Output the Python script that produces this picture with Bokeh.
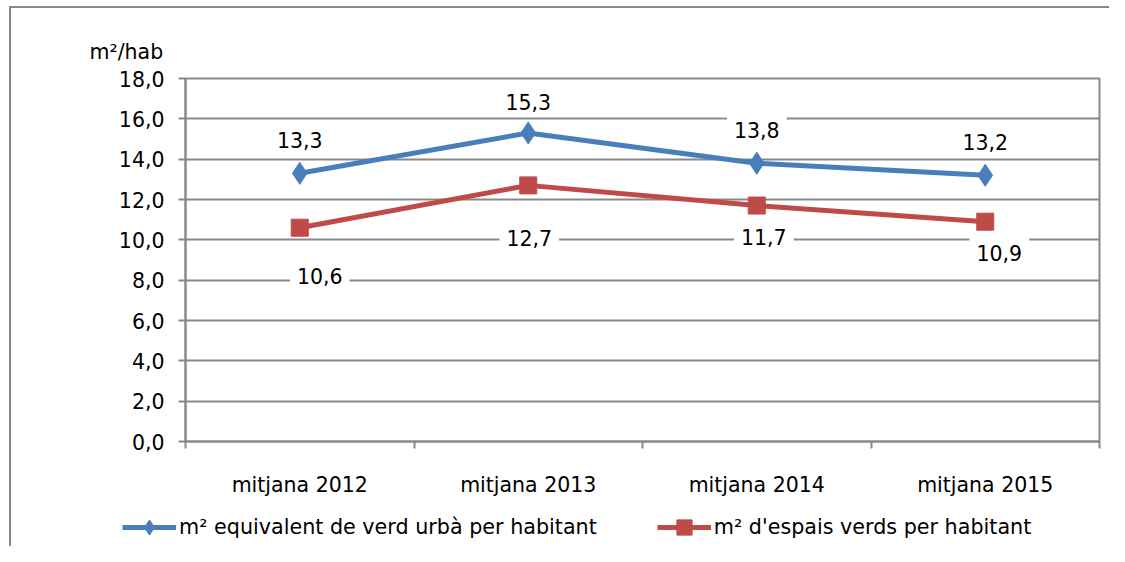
from bokeh.plotting import figure
from bokeh.models import (ColumnDataSource, FixedTicker, CustomJSTickFormatter,
                          Legend, LegendItem, Range1d)
from bokeh.core.properties import value
from bokeh.embed import file_html
from bokeh.resources import INLINE

# ---- data ----
categories = ["mitjana 2012", "mitjana 2013", "mitjana 2014", "mitjana 2015"]
verd_urba = [13.3, 15.3, 13.8, 13.2]
espais_verds = [10.6, 12.7, 11.7, 10.9]
series_names = ["m\u00b2 equivalent de verd urb\u00e0 per habitant",
                "m\u00b2 d'espais verds per habitant"]
y_ticks = [0, 2, 4, 6, 8, 10, 12, 14, 16, 18]
y_title = "m\u00b2/hab"

# label placement (screen px, down is positive), style only
blue_lbl_dx = [0, 0, 0, 0]
blue_lbl_dy = [-33, -31, -33, -33]
red_lbl_dx = [20, 1, 7, 14]
red_lbl_dy = [48, 53, 31, 31]

BLUE = "#4A7EBB"
RED = "#BE4B48"
GRID = "#898989"
FONT = "DejaVu Sans"
FS = "20.5px"
W = 1109

xs = [i + 0.5 for i in range(len(categories))]

def fmt(v):
    return ("%.1f" % v).replace(".", ",")

src_b = ColumnDataSource(dict(x=xs, y=verd_urba, t=[fmt(v) for v in verd_urba],
                              dx=blue_lbl_dx, dy=blue_lbl_dy))
src_r = ColumnDataSource(dict(x=xs, y=espais_verds, t=[fmt(v) for v in espais_verds],
                              dx=red_lbl_dx, dy=red_lbl_dy))

p = figure(width=W, height=500, output_backend="svg", toolbar_location=None,
           x_range=Range1d(0, len(categories)), y_range=Range1d(0, 18),
           title=y_title)
p.min_border_left = 185
p.min_border_right = 10
p.min_border_top = 78
p.min_border_bottom = 59
p.background_fill_color = "white"
p.border_fill_alpha = 0
p.outline_line_color = GRID
p.outline_line_width = 2
p.styles = {"background": ("linear-gradient(#898989,#898989) 9px 6px / 2px 100% no-repeat, "
                           "linear-gradient(#898989,#898989) 9px 6px / 100% 2px no-repeat, white")}

# y title as plot title
p.title.text_font = FONT
p.title.text_font_size = FS
p.title.text_font_style = "normal"
p.title.text_color = "black"
p.title.align = "left"
p.title.offset = -96
p.title.standoff = 29

# axes
p.xaxis.ticker = FixedTicker(ticks=xs, minor_ticks=list(range(len(categories) + 1)))
p.xaxis.major_label_overrides = {x: c for x, c in zip(xs, categories)}
p.xaxis.major_tick_out = 0
p.xaxis.major_tick_in = 0
p.xaxis.minor_tick_out = 7
p.xaxis.minor_tick_in = 0
p.xaxis.minor_tick_line_color = GRID
p.xaxis.minor_tick_line_width = 2
p.xaxis.axis_line_color = GRID
p.xaxis.axis_line_width = 2
p.xaxis.major_label_standoff = 24
p.xaxis.major_label_text_font = FONT
p.xaxis.major_label_text_font_size = FS
p.xaxis.major_label_text_color = "black"

p.yaxis.ticker = FixedTicker(ticks=y_ticks, minor_ticks=[])
p.yaxis.formatter = CustomJSTickFormatter(code="return tick.toFixed(1).replace('.', ',');")
p.yaxis.major_tick_out = 7
p.yaxis.major_tick_in = 0
p.yaxis.major_tick_line_color = GRID
p.yaxis.major_tick_line_width = 2
p.yaxis.minor_tick_line_color = None
p.yaxis.axis_line_color = GRID
p.yaxis.axis_line_width = 2
p.yaxis.major_label_standoff = 14
p.yaxis.major_label_text_font = FONT
p.yaxis.major_label_text_font_size = FS
p.yaxis.major_label_text_color = "black"

p.xgrid.grid_line_color = None
p.ygrid.ticker = FixedTicker(ticks=y_ticks)
p.ygrid.grid_line_color = GRID
p.ygrid.grid_line_width = 2

# value labels (drawn under the lines)
for src in (src_b, src_r):
    p.text("x", "y", text="t", source=src, x_offset="dx", y_offset="dy",
           text_align="center", text_baseline="middle",
           text_font=value(FONT), text_font_size=FS, text_color="black",
           background_fill_color="white", padding=7)

# series
p.line("x", "y", source=src_b, line_color=BLUE, line_width=5)
p.scatter("x", "y", source=src_b, marker="diamond", size=22,
          fill_color=BLUE, line_color=BLUE)
p.line("x", "y", source=src_r, line_color=RED, line_width=5)
p.scatter("x", "y", source=src_r, marker="square", size=17,
          fill_color=RED, line_color=RED)

# ---- legend strip (separate root below the chart; its series are off-range) ----
lg = figure(width=W, height=46, output_backend="svg", toolbar_location=None,
            x_range=Range1d(0, 1), y_range=Range1d(100, 101))
lg.min_border = 0
lg.axis.visible = False
lg.grid.visible = False
lg.outline_line_color = None
lg.border_fill_alpha = 0
lg.background_fill_alpha = 0
lg.styles = {"background": "linear-gradient(#898989,#898989) 9px 0px / 2px 100% no-repeat, white"}

d1 = lg.line("x", "y", source=src_b, line_color=BLUE, line_width=5)
d1m = lg.scatter("x", "y", source=src_b, marker="diamond", fill_color=BLUE, line_color=BLUE)
d2 = lg.line("x", "y", source=src_r, line_color=RED, line_width=5)
d2m = lg.scatter("x", "y", source=src_r, marker="square", fill_color=RED, line_color=RED)

legend = Legend(items=[LegendItem(label=series_names[0], renderers=[d1, d1m]),
                       LegendItem(label=series_names[1], renderers=[d2, d2m])],
                orientation="horizontal", location=(122, 0),
                glyph_width=54, glyph_height=38, label_standoff=3, spacing=60,
                padding=0, margin=0, border_line_color=None,
                background_fill_alpha=0,
                label_text_font=FONT, label_text_font_size="20.7px",
                label_text_color="black")
lg.add_layout(legend)

open("out.html", "w").write(file_html([p, lg], INLINE))
